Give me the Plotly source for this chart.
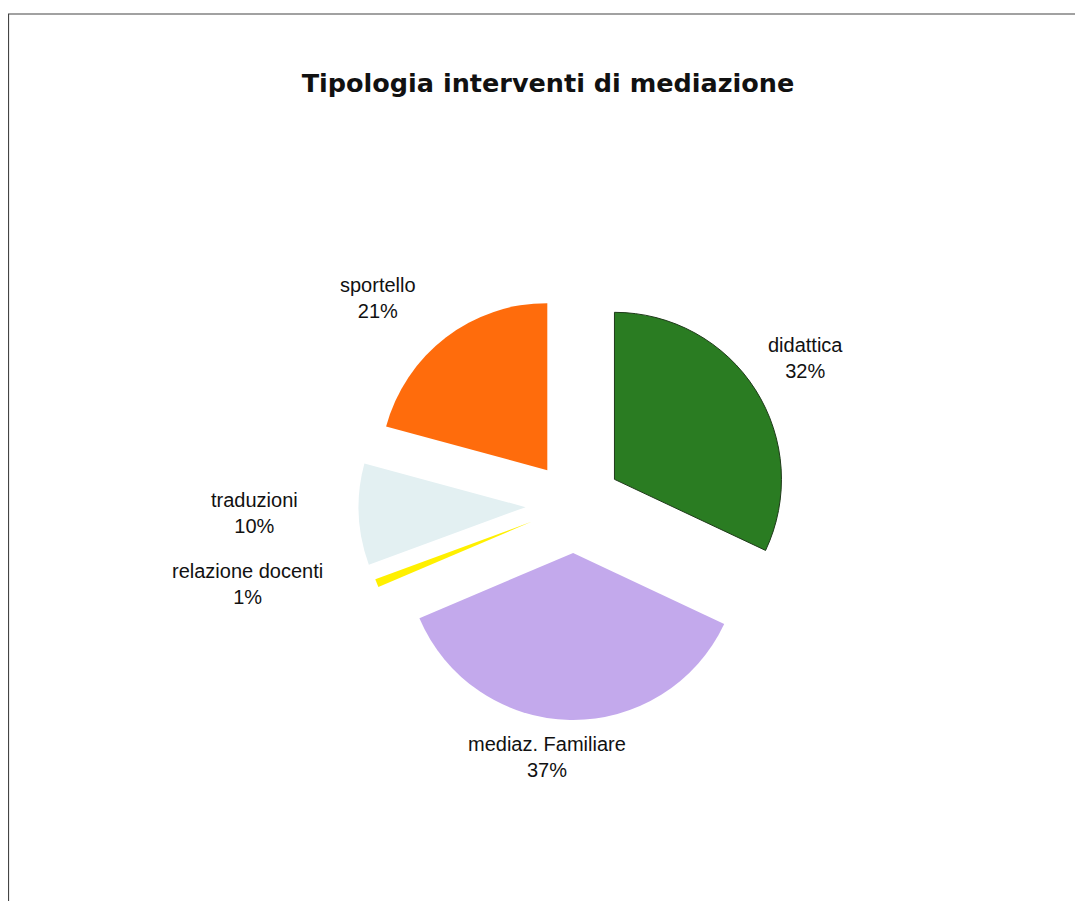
import math
import plotly.graph_objects as go

categories = ["didattica", "mediaz. Familiare", "relazione docenti", "traduzioni", "sportello"]
values = [32.0, 36.6, 0.8, 9.8, 20.8]
colors = ["#2a7c22", "#c3a9ec", "#fff000", "#e3f0f2", "#ff6c0c"]
pulls = [0.287, 0.287, 0.27, 0.29, 0.263]
title_text = "Tipologia interventi di mediazione"

# label placement (style): distance from pie centre in px and angular tweak in degrees
label_r = [274, 253, 336, 320, 285]
label_dtheta = [0, 5, 8, 1, -6]

W, H = 1075, 893          # page adds an 8px body margin
cx, cy, R = 566, 497, 167  # pie centre / radius in figure pixels
half = R * (1 + max(pulls))

fig = go.Figure(go.Pie(
    labels=categories,
    values=values,
    sort=False,
    direction="clockwise",
    rotation=0,
    pull=pulls,
    marker=dict(colors=colors, line=dict(width=[1, 0, 0, 0, 0], color="#1f3a1a")),
    textinfo="none",
    showlegend=False,
    hoverinfo="label+percent",
    domain=dict(x=[(cx - half) / W, (cx + half) / W],
                y=[(H - cy - half) / H, (H - cy + half) / H]),
))

total = sum(values)
annotations = []
cum = 0.0
for lab, v, r, dt in zip(categories, values, label_r, label_dtheta):
    mid = (cum + v / 2) / total * 360 + dt
    cum += v
    a = math.radians(mid)
    px = cx + r * math.sin(a)
    py = cy - r * math.cos(a)
    pct = round(v / total * 100)
    annotations.append(dict(
        x=px / W, y=1 - py / H, xref="paper", yref="paper",
        text=f"{lab}<br>{pct}%", showarrow=False, align="center",
        xanchor="center", yanchor="middle",
        font=dict(family="Liberation Sans, Arial, sans-serif", size=20, color="#111111"),
    ))

fig.update_layout(
    width=W, height=H,
    margin=dict(l=0, r=0, t=0, b=0),
    paper_bgcolor="white",
    plot_bgcolor="white",
    title=dict(text="<b>" + title_text + "</b>", x=540 / W, y=1 - 75 / H,
               xanchor="center", yanchor="middle",
               font=dict(family="Comic Sans MS, DejaVu Sans, sans-serif", size=25.5, color="#111111")),
    annotations=annotations,
    shapes=[dict(type="rect", xref="paper", yref="paper",
                 x0=0.5 / W, x1=1.02, y0=-0.02, y1=1 - 6 / H,
                 line=dict(color="#444444", width=1.2), fillcolor="rgba(0,0,0,0)")],
)

fig.write_html("out.html")
